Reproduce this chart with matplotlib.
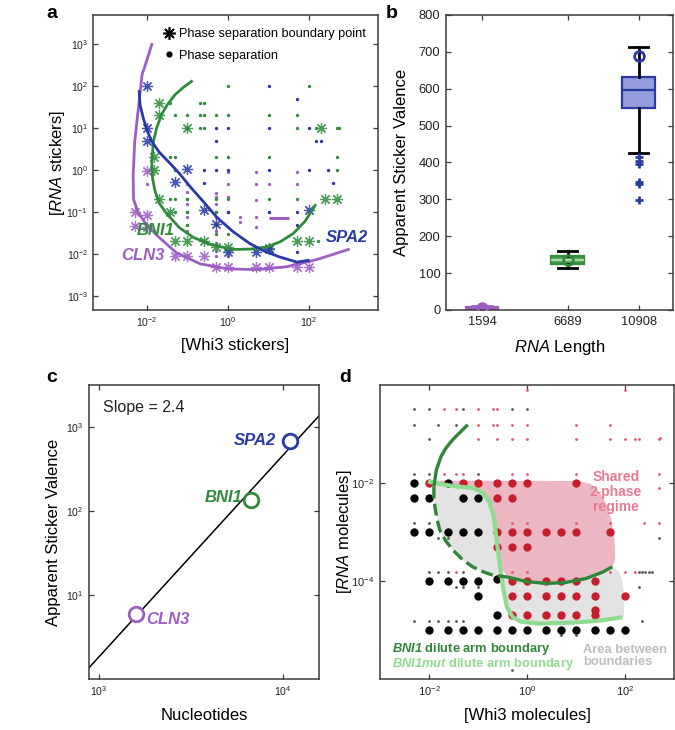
import numpy as np
import matplotlib
matplotlib.use("Agg")
import matplotlib.pyplot as plt
from matplotlib.lines import Line2D
from matplotlib.ticker import NullLocator

plt.rcParams['font.family'] = ['Liberation Sans', 'DejaVu Sans']
plt.rcParams['mathtext.fontset'] = 'custom'
plt.rcParams['mathtext.rm'] = 'Liberation Sans'
plt.rcParams['mathtext.it'] = 'Liberation Sans:italic'
plt.rcParams['mathtext.bf'] = 'Liberation Sans:bold'
plt.rcParams['mathtext.bfit'] = 'Liberation Sans:italic:bold'
plt.rcParams['mathtext.default'] = 'regular'

GREEN = '#2e8b3a'
BLUE = '#2a3aa4'
PURPLE = '#9d5ec4'
RED = '#c61f2c'
DKGREEN = '#2f8538'
LTGREEN = '#8fdb8f'
PINK_FILL = '#ecb7c3'
GRAY_FILL = '#e3e3e3'

# ---------------- Panel a data ----------------
bni1_boundary_x = [0.02, 0.02, 0.1, 200, 0.015, 0.015, 0.02, 0.037, 250, 500,
                   0.05, 0.1, 0.25, 0.5, 1, 10, 50, 100]
bni1_boundary_y = [40, 20, 10, 10, 2, 1, 0.2, 0.1, 0.2, 0.2,
                   0.021, 0.021, 0.021, 0.015, 0.015, 0.014, 0.021, 0.021]
bni1_phase_x = [1, 100, 0.037, 0.2, 0.25,
                0.05, 0.1, 0.2, 0.25, 0.5, 1, 10, 50,
                0.2, 0.25, 50, 145, 500, 560,
                0.037, 0.05, 0.5, 1, 10, 500,
                0.05, 500,
                0.037, 0.05, 0.1, 0.5, 1, 10, 50,
                0.05, 0.1, 0.5, 1, 10,
                0.1, 0.5, 0.5, 1, 170]
bni1_phase_y = [100, 100, 40, 40, 40,
                20, 20, 20, 20, 20, 20, 20, 20,
                10, 10, 10, 10, 10, 10,
                2, 2, 2, 2, 2, 2,
                1, 1,
                0.2, 0.2, 0.2, 0.2, 0.2, 0.2, 0.2,
                0.1, 0.1, 0.1, 0.1, 0.1,
                0.05, 0.05, 0.03, 0.03, 0.021]

spa2_boundary_x = [0.01, 0.01, 0.01, 0.1, 0.05, 0.25, 0.5, 1, 5, 10, 100]
spa2_boundary_y = [100, 10, 5, 1.05, 0.52, 0.11, 0.052, 0.011, 0.011, 0.013, 0.11]
spa2_phase_x = [10, 50, 0.1, 0.5, 1, 10, 100, 0.5, 145, 200, 0.25, 0.5, 1, 10, 100, 300,
                0.25, 400, 1, 10, 50, 50, 50]
spa2_phase_y = [100, 50, 10, 10, 10, 10, 10, 5, 5, 5, 1, 1, 1, 1, 1, 1,
                0.5, 0.5, 0.1, 0.1, 0.1, 0.05, 0.011]

cln3_boundary_x = [0.01, 0.005, 0.01, 0.005, 0.01, 0.05, 0.1, 0.25, 0.5, 1, 5, 10, 50, 100]
cln3_boundary_y = [0.95, 0.1, 0.083, 0.047, 0.045, 0.009, 0.009, 0.009,
                   0.0049, 0.0049, 0.0049, 0.0049, 0.0049, 0.0049]
cln3_phase_x = [0.01, 0.1, 1, 1, 5, 5, 10, 50, 50,
                0.1, 0.1, 0.1, 0.1, 0.1, 0.1, 0.1,
                0.5, 0.5, 0.5, 0.5, 0.5, 0.5, 0.5, 0.5, 0.5,
                1, 1, 2, 2, 5, 5, 5, 0.5, 1]
cln3_phase_y = [0.47, 0.47, 0.9, 0.47, 0.9, 0.47, 0.47, 0.9, 0.47,
                0.3, 0.2, 0.16, 0.1, 0.075, 0.048, 0.036,
                0.28, 0.23, 0.16, 0.1, 0.075, 0.052, 0.036, 0.018, 0.012,
                0.23, 0.1, 0.075, 0.057, 0.19, 0.075, 0.044, 0.009, 0.009]
cln3_segment_x = [10.5, 32]
cln3_segment_y = [0.074, 0.074]

# fitted boundary curves (log10 units)
cln3_curve_lx = [-1.88, -2.00, -2.12, -2.21, -2.30, -2.34, -2.33, -2.22, -2.05, -1.76,
                 -1.27, -0.69, -0.03, 0.71, 1.45, 2.19, 2.97]
cln3_curve_ly = [2.99, 2.62, 2.27, 1.48, 0.68, -0.12, -0.70, -1.00, -1.25, -1.55,
                 -1.97, -2.23, -2.35, -2.37, -2.30, -2.13, -1.89]
bni1_curve_lx = [-0.90, -1.10, -1.31, -1.50, -1.64, -1.76, -1.84, -1.88, -1.86, -1.80,
                 -1.70, -1.51, -1.20, -0.86, -0.40, 0.13, 0.55, 0.96, 1.30, 1.61, 1.90, 2.15]
bni1_curve_ly = [2.11, 1.97, 1.79, 1.55, 1.32, 1.00, 0.68, 0.20, -0.20, -0.50,
                 -0.78, -1.04, -1.37, -1.60, -1.78, -1.89, -1.88, -1.83, -1.70, -1.51, -1.22, -0.84]
spa2_curve_lx = [-2.19, -2.17, -2.09, -2.00, -1.88, -1.70, -1.47, -1.20, -0.93, -0.60,
                 -0.28, 0.13, 0.54, 0.90, 1.28, 1.70, 1.98]
spa2_curve_ly = [1.87, 1.55, 1.24, 0.95, 0.68, 0.43, 0.20, -0.08, -0.40, -0.76,
                 -1.12, -1.47, -1.75, -1.93, -2.07, -2.19, -2.15]

# ---------------- Panel b / c data ----------------
rna_names = ['CLN3', 'BNI1', 'SPA2']
rna_lengths = [1594, 6689, 10908]
valence = [6, 135, 689]
box_q1 = [4, 124, 547]
box_med = [6.5, 136, 597]
box_q3 = [9, 147, 633]
box_lo = [3, 115, 425]
box_hi = [11, 161, 712]
box_fliers = [[], [], [416, 405, 396, 348, 341, 298]]

# ---------------- Panel d data ----------------
big_black_x = [0.005, 0.025,
               0.005, 0.01, 0.05, 0.1,
               0.005, 0.01, 0.025, 0.05, 0.1,
               0.01, 0.025, 0.05, 0.1, 0.25,
               0.1, 0.25,
               0.01, 0.025, 0.05, 0.1, 0.25, 0.5, 1, 2.5, 5, 10, 25, 50, 100]
big_black_y = [1e-2, 1e-2,
               5e-3, 5e-3, 5e-3, 5e-3,
               1e-3, 1e-3, 1e-3, 1e-3, 1e-3,
               1e-4, 1e-4, 1e-4, 1e-4, 1.1e-4,
               5e-5, 2e-5,
               1e-5, 1e-5, 1e-5, 1e-5, 1e-5, 1e-5, 1e-5, 1e-5, 1e-5, 1e-5, 1e-5, 1e-5, 1e-5]
big_red_x = [0.01, 0.05, 0.1, 0.25, 0.5, 1, 10,
             0.25, 0.5,
             0.25, 0.5, 1, 2.5, 5, 10, 50,
             0.25, 0.5, 1,
             0.5, 1, 2.5, 5, 10, 25,
             0.5, 1, 2.5, 5, 10, 25, 100,
             0.5, 1, 2.5, 5, 10, 25, 25]
big_red_y = [1e-2] * 7 + [5e-3] * 2 + [1e-3] * 7 + [5e-4] * 3 + [1e-4] * 6 + \
            [5e-5] * 7 + [2e-5] * 6 + [2.6e-5]
small_gray_x = [0.005, 0.01, 0.05, 0.5, 1,
                0.005, 0.015, 0.035,
                0.01,
                0.005, 0.01, 0.1,
                0.005, 0.01,
                0.015, 0.025, 490,
                0.01, 0.015, 0.025, 0.05, 190, 225, 262, 310, 360,
                0.035, 0.05, 0.1, 190,
                0.005, 0.01, 0.015, 0.025, 0.035, 0.05, 225,
                5, 10, 0.5]
small_gray_y = [0.32] * 5 + [0.155] * 3 + [0.078] + [0.015] * 3 + [0.00156] * 2 + \
               [7.7e-4] * 3 + [1.55e-4] * 9 + [7.6e-5] * 4 + [1.5e-5] * 7 + \
               [7.9e-6] * 2 + [1.5e-6]
small_pink_x = [1, 100,
                0.02, 0.035, 0.1, 0.2, 0.25,
                0.1, 0.2, 0.25, 0.5, 1, 10, 50,
                0.1, 0.25, 0.5, 1, 10, 50, 100, 158, 190, 490, 530,
                0.02, 0.035, 0.05, 0.5, 1, 10, 490,
                490,
                0.5, 1, 10, 50, 240, 490,
                0.035, 0.5, 1, 50, 100, 158]
small_pink_y = [0.8, 0.8] + [0.32] * 5 + [0.155] * 7 + [0.078] * 10 + [0.083] + \
               [0.015] * 7 + [0.0079] + [0.00156] * 6 + [1.55e-4] * 6

# boundary curves of panel d (log10 units)
bni1_upper_lx = [-1.21, -1.40, -1.51, -1.65, -1.75, -1.85, -1.90]
bni1_upper_ly = [-0.81, -1.00, -1.11, -1.28, -1.45, -1.73, -2.07]
bni1_dashed_lx = [-1.90, -1.90, -1.88, -1.84, -1.78, -1.66, -1.51, -1.32, -1.11, -0.90, -0.70, -0.39]
bni1_dashed_ly = [-2.07, -2.30, -2.48, -2.72, -2.96, -3.18, -3.37, -3.56, -3.71, -3.81, -3.88, -3.92]
bni1_lower_lx = [-0.39, -0.02, 0.39, 0.79, 1.20, 1.54, 1.74]
bni1_lower_ly = [-3.92, -4.01, -4.05, -4.03, -3.95, -3.82, -3.71]
mut_lx = [-2.02, -1.78, -1.44, -1.11, -0.90, -0.77, -0.68, -0.62, -0.55, -0.48, -0.41,
          -0.29, -0.12, 0.25, 0.93, 1.47, 1.95]
mut_ly = [-1.97, -2.02, -2.07, -2.10, -2.20, -2.38, -2.68, -3.16, -3.71, -4.18, -4.53,
          -4.74, -4.83, -4.87, -4.85, -4.81, -4.74]
pink_top_right_lx = [-1.90, 1.06, 1.30, 1.45, 1.61, 1.72, 1.79, 1.80]
pink_top_right_ly = [-1.95, -1.96, -2.02, -2.15, -2.41, -2.75, -3.20, -3.57]
gray_right_lx = [1.87, 1.95, 1.98, 1.98]
gray_right_ly = [-3.80, -4.00, -4.30, -4.74]

LABEL_FS = 12


def style(ax, tick_fs, pad=4):
    for s in ax.spines.values():
        s.set_linewidth(1.1)
        s.set_color('#3a3a3a')
    ax.tick_params(which='both', direction='in', top=True, right=True, length=3.5,
                   width=0.9, color='#3a3a3a', labelcolor='#222222', labelsize=tick_fs, pad=pad)


def logaxes(ax):
    ax.set_xscale('log')
    ax.set_yscale('log')
    ax.xaxis.set_minor_locator(NullLocator())
    ax.yaxis.set_minor_locator(NullLocator())


fig = plt.figure(figsize=(6.75, 7.3), dpi=100)
axA = fig.add_axes([93 / 675, 1 - 310 / 730, 285 / 675, 295 / 730])
axB = fig.add_axes([446 / 675, 1 - 310 / 730, 227 / 675, 295 / 730])
axC = fig.add_axes([89 / 675, 1 - 679 / 730, 230 / 675, 294 / 730])
axD = fig.add_axes([380 / 675, 1 - 679 / 730, 294 / 675, 294 / 730])

# ================= Panel a =================
ax = axA
logaxes(ax)
star = (8, 2, 0)
dot_kw = dict(ls='none', marker='o', ms=2.4, mew=0, zorder=2)
ast_kw = dict(ls='none', marker=star, ms=8, mew=0.9, alpha=0.85, zorder=2)
ax.plot(cln3_phase_x, cln3_phase_y, color=PURPLE, **dot_kw)
ax.plot(bni1_phase_x, bni1_phase_y, color=GREEN, **dot_kw)
ax.plot(spa2_phase_x, spa2_phase_y, color=BLUE, **dot_kw)
ax.plot(cln3_boundary_x, cln3_boundary_y, color=PURPLE, **ast_kw)
ax.plot(bni1_boundary_x, bni1_boundary_y, color=GREEN, **ast_kw)
ax.plot(spa2_boundary_x, spa2_boundary_y, color=BLUE, **ast_kw)
ax.plot(cln3_segment_x, cln3_segment_y, color=PURPLE, lw=2.2, solid_capstyle='butt', zorder=3)
ax.plot(10 ** np.array(cln3_curve_lx), 10 ** np.array(cln3_curve_ly), color=PURPLE, lw=2.0, zorder=3)
ax.plot(10 ** np.array(bni1_curve_lx), 10 ** np.array(bni1_curve_ly), color=GREEN, lw=2.0, zorder=3)
ax.plot(10 ** np.array(spa2_curve_lx), 10 ** np.array(spa2_curve_ly), color=BLUE, lw=2.0, zorder=3)
ax.set_xlim(10 ** -3.33, 10 ** 3.70)
ax.set_ylim(10 ** -3.33, 10 ** 3.69)
ax.set_xticks([1e-2, 1e0, 1e2])
ax.set_yticks([1e-3, 1e-2, 1e-1, 1e0, 1e1, 1e2, 1e3])
style(ax, 7.5, pad=3.5)
lab_kw = dict(fontsize=12, fontweight='bold', style='italic', ha='center', va='center')
ax.text(0.0167, 0.0367, 'BNI1', color=GREEN, **lab_kw)
ax.text(0.0079, 0.0093, 'CLN3', color=PURPLE, **lab_kw)
ax.text(870, 0.025, 'SPA2', color=BLUE, **lab_kw)
handles = [Line2D([], [], ls='none', marker=star, color='k', ms=9, mew=1.2),
           Line2D([], [], ls='none', marker='o', color='k', ms=4.5, mew=0)]
ax.legend(handles, ['Phase separation boundary point', 'Phase separation'],
          loc='upper left', bbox_to_anchor=(0.245, 0.955), frameon=False, fontsize=9.2,
          handlelength=0.9, handletextpad=0.35, labelspacing=0.75, borderpad=0.0,
          borderaxespad=0.0)
ax.set_xlabel('[Whi3 stickers]', fontsize=LABEL_FS)
ax.xaxis.set_label_coords(0.5, -0.095)
ax.set_ylabel(r'[$\mathit{RNA}$ stickers]', fontsize=LABEL_FS)
ax.yaxis.set_label_coords(-0.092, 0.5)

# ================= Panel b =================
ax = axB
stats = []
for q1, med, q3, lo, hi, fl in zip(box_q1, box_med, box_q3, box_lo, box_hi, box_fliers):
    stats.append(dict(q1=q1, med=med, q3=q3, whislo=lo, whishi=hi, fliers=fl))
bp = ax.bxp(stats, positions=rna_lengths, widths=1950, capwidths=1150, patch_artist=True,
            showfliers=True, manage_ticks=False)
face = ['#b58ad0', '#4d9e55', '#959eda']
edge = [PURPLE, GREEN, BLUE]
medc = [PURPLE, '#a9d8a9', BLUE]
for i in range(3):
    bp['boxes'][i].set(facecolor=face[i], edgecolor=edge[i], linewidth=1.6)
    bp['medians'][i].set(color=medc[i], linewidth=1.6)
    wc = PURPLE if i == 0 else 'black'
    for w in bp['whiskers'][2 * i:2 * i + 2]:
        w.set(color=wc, linewidth=2.0)
    for c in bp['caps'][2 * i:2 * i + 2]:
        c.set(color=wc, linewidth=2.0)
    bp['fliers'][i].set(marker='+', markeredgecolor=BLUE, markersize=6, markeredgewidth=2.0)
for xv, yv, c in zip(rna_lengths, valence, edge):
    ax.plot([xv], [yv], ls='none', marker='o', ms=7, mfc='none', mec=c, mew=2.0, zorder=4)
ax.set_xlim(-550, 12950)
ax.set_ylim(0, 800)
ax.set_xticks(rna_lengths)
ax.set_xticklabels([str(v) for v in rna_lengths])
ax.set_yticks(np.arange(0, 801, 100))
style(ax, 9.3)
ax.set_ylabel('Apparent Sticker Valence', fontsize=LABEL_FS)
ax.yaxis.set_label_coords(-0.163, 0.5)
ax.set_xlabel(r'$\mathit{RNA}$ Length', fontsize=LABEL_FS)
ax.xaxis.set_label_coords(0.5, -0.095)

# ================= Panel c =================
ax = axC
logaxes(ax)
xl = (10 ** 2.946, 10 ** 4.196)
slope, icpt = np.polyfit(np.log10(rna_lengths), np.log10(valence), 1)
xx = np.array(xl)
ax.plot(xx, 10 ** (icpt + slope * np.log10(xx)), color='black', lw=1.1, zorder=2)
for xv, yv, c in zip(rna_lengths, valence, edge):
    ax.plot([xv], [yv], ls='none', marker='o', ms=10.5, mfc='white', mec=c, mew=2.0, zorder=3)
lab_kw2 = dict(fontsize=12, fontweight='bold', style='italic', textcoords='offset points')
ax.annotate(rna_names[2], (rna_lengths[2], valence[2]), xytext=(-10, 0), ha='right', va='center',
            color=BLUE, **lab_kw2)
ax.annotate(rna_names[1], (rna_lengths[1], valence[1]), xytext=(-6, 1.5), ha='right', va='center',
            color=GREEN, **lab_kw2)
ax.annotate(rna_names[0], (rna_lengths[0], valence[0]), xytext=(7, -4), ha='left', va='center',
            color=PURPLE, **lab_kw2)
ax.text(0.06, 0.925, f'Slope = {slope:.1f}', transform=ax.transAxes, fontsize=11.5,
        ha='left', va='center', color='#222222')
ax.set_xlim(*xl)
ax.set_ylim(10 ** 0.0, 10 ** 3.5)
ax.set_xticks([1e3, 1e4])
ax.set_yticks([1e1, 1e2, 1e3])
style(ax, 7.5)
ax.set_xlabel('Nucleotides', fontsize=LABEL_FS)
ax.xaxis.set_label_coords(0.5, -0.1)
ax.set_ylabel('Apparent Sticker Valence', fontsize=LABEL_FS)
ax.yaxis.set_label_coords(-0.12, 0.5)

# ================= Panel d =================
ax = axD
logaxes(ax)
P = lambda a: 10 ** np.array(a)
gx = np.concatenate([bni1_dashed_lx, bni1_lower_lx[1:], gray_right_lx, mut_lx[::-1]])
gy = np.concatenate([bni1_dashed_ly, bni1_lower_ly[1:], gray_right_ly, mut_ly[::-1]])
ax.fill(P(gx), P(gy), color=GRAY_FILL, lw=0, zorder=0.5)
px = np.concatenate([pink_top_right_lx, bni1_lower_lx[::-1], mut_lx[8::-1]])
py = np.concatenate([pink_top_right_ly, bni1_lower_ly[::-1], mut_ly[8::-1]])
ax.fill(P(px), P(py), color=PINK_FILL, lw=0, zorder=0.6)
ax.plot(small_gray_x, small_gray_y, ls='none', marker='o', ms=2.0, mew=0, color='#555555', zorder=2)
ax.plot(small_pink_x, small_pink_y, ls='none', marker='o', ms=2.0, mew=0, color='#e0566a', zorder=2)
ax.plot(big_black_x, big_black_y, ls='none', marker='o', ms=6, mew=0, color='black', zorder=3)
ax.plot(big_red_x, big_red_y, ls='none', marker='o', ms=6, mew=0, color=RED, zorder=3)
ax.plot(P(mut_lx), P(mut_ly), color=LTGREEN, lw=3.0, zorder=4, solid_capstyle='butt')
ax.plot(P(bni1_upper_lx), P(bni1_upper_ly), color=DKGREEN, lw=2.4, zorder=5, solid_capstyle='butt')
ax.plot(P(bni1_dashed_lx), P(bni1_dashed_ly), color=DKGREEN, lw=2.4, zorder=5,
        ls=(0, (3.6, 1.6)), dash_capstyle='butt')
ax.plot(P(bni1_lower_lx), P(bni1_lower_ly), color=DKGREEN, lw=2.4, zorder=5, solid_capstyle='butt')
ax.text(65, 0.0066, 'Shared\n2-phase\nregime', color='#e87a90', fontsize=10, fontweight='bold',
        ha='center', va='center', linespacing=1.12, zorder=6)
ax.text(0.04, 0.102, r'$\mathbfit{BNI1}$ dilute arm boundary', transform=ax.transAxes,
        color=DKGREEN, fontsize=9.3, fontweight='bold', ha='left', va='center', zorder=6)
ax.text(0.04, 0.051, r'$\mathbfit{BNI1mut}$ dilute arm boundary', transform=ax.transAxes,
        color=LTGREEN, fontsize=9.3, fontweight='bold', ha='left', va='center', zorder=6)
ax.text(0.69, 0.077, 'Area between\nboundaries', transform=ax.transAxes, color='#bdbdbd',
        fontsize=9.3, fontweight='bold', ha='left', va='center', linespacing=1.0, zorder=6)
ax.set_xlim(1e-3, 1e3)
ax.set_ylim(1e-6, 1e0)
ax.set_xticks([1e-2, 1e0, 1e2])
ax.set_yticks([1e-4, 1e-2])
style(ax, 8)
ax.set_xlabel('[Whi3 molecules]', fontsize=LABEL_FS)
ax.xaxis.set_label_coords(0.5, -0.1)
ax.set_ylabel(r'[$\mathit{RNA}$ molecules]', fontsize=LABEL_FS)
ax.yaxis.set_label_coords(-0.09, 0.5)

# panel letters
for lab, (xp, yp) in zip('abcd', [(52, 14), (392, 14), (52, 377), (345, 377)]):
    fig.text(xp / 675, 1 - yp / 730, lab, fontsize=14, fontweight='bold', ha='center', va='center')

fig.savefig('out.png', dpi=100)
